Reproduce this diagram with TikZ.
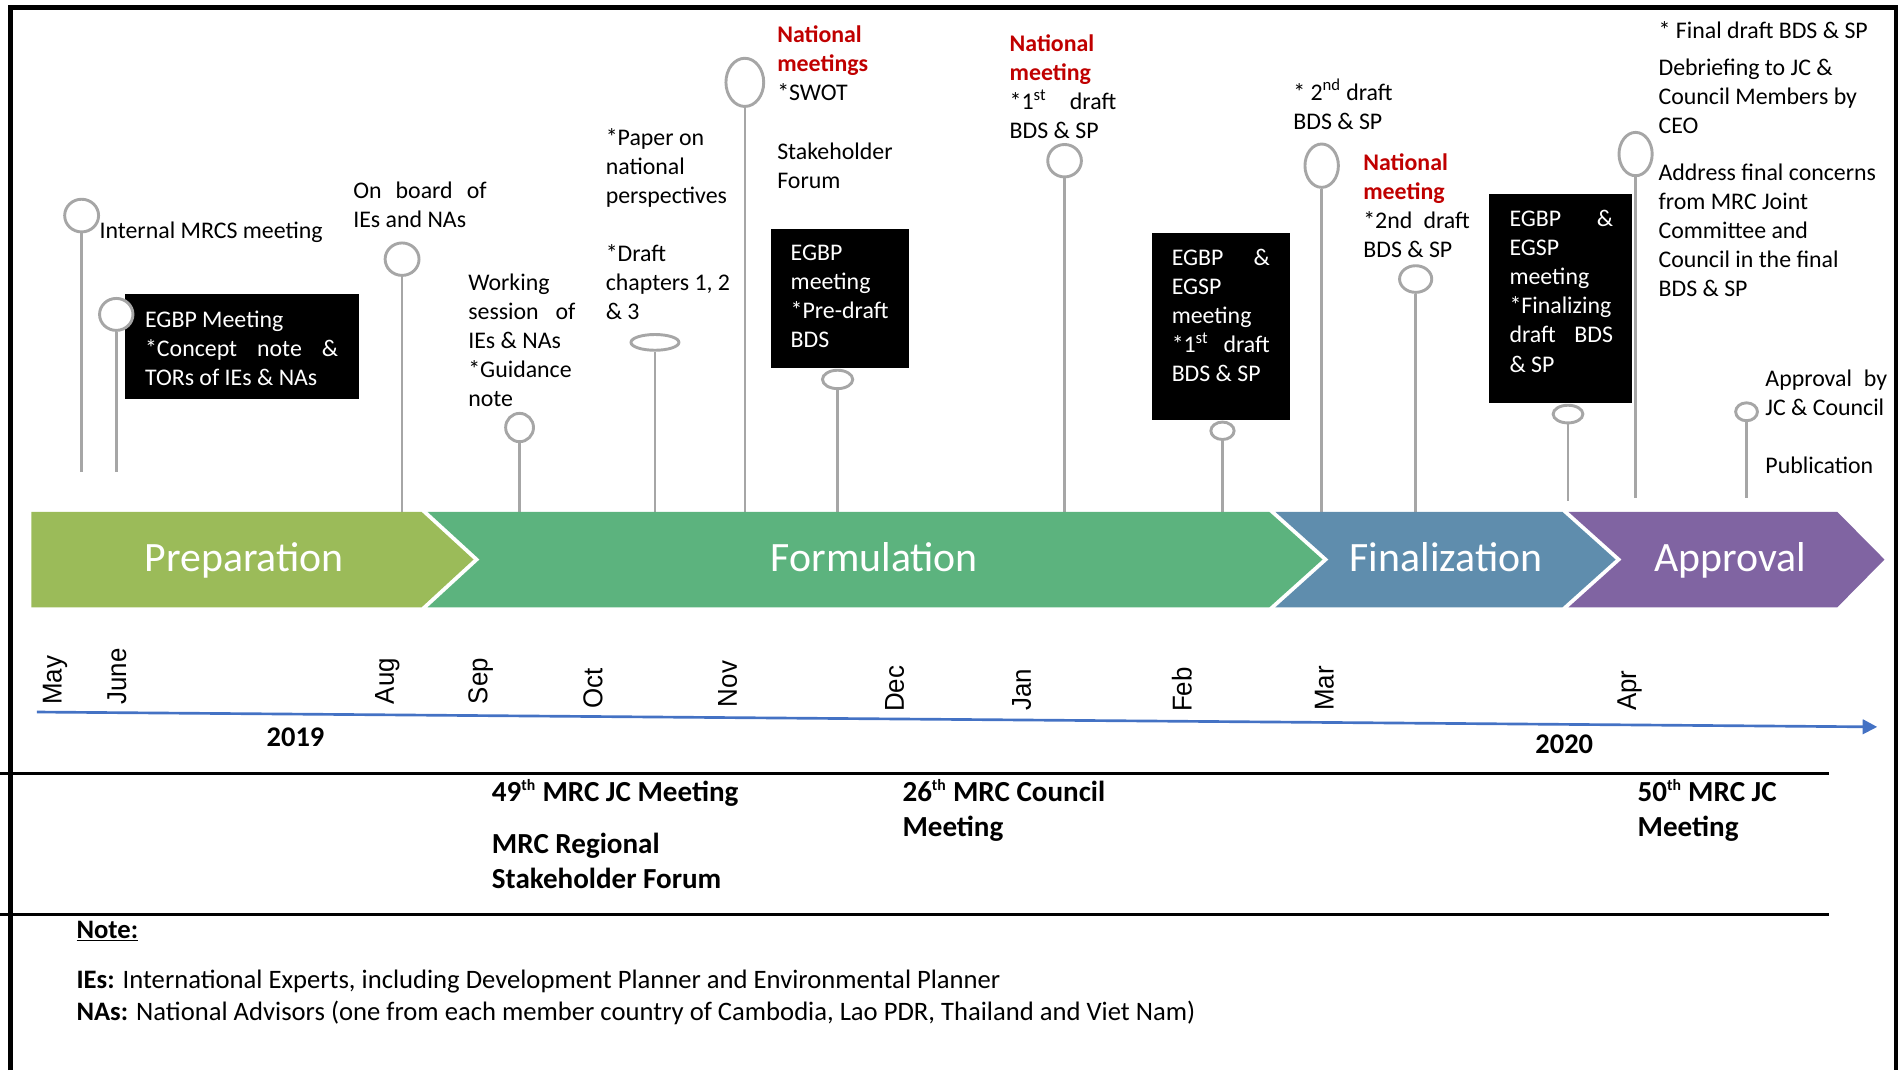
\documentclass[tikz,border=0pt]{standalone}
\usepackage{fontspec}
\setmainfont{Carlito}
\newfontfamily\monthfont{Liberation Sans}
\usetikzlibrary{shapes.geometric,arrows.meta}
\definecolor{stemgray}{HTML}{A6A6A6}
\definecolor{natred}{HTML}{C00000}
\definecolor{prepc}{HTML}{9BBB59}
\definecolor{formc}{HTML}{5CB37E}
\definecolor{finc}{HTML}{5F8DAD}
\definecolor{apprc}{HTML}{8064A2}
\definecolor{axisblue}{HTML}{4472C4}
\newcommand\lyn[1]{\hbox{#1}}
\newcommand\redb{\color{natred}\bfseries}
\newcommand\bodyf{\fontsize{19.7}{24}\selectfont}
\newcommand\smsup[1]{\textsuperscript{\fontsize{13}{13}\selectfont #1}}
\tikzset{
  ring/.style={ellipse, draw=stemgray, line width=2.4pt, fill=white, inner sep=0pt},
  stem/.style={draw=stemgray, line width=2.2pt},
  txt/.style={anchor=base west, inner sep=0pt, font=\bodyf},
  wtxt/.style={txt, text=white},
  blackbox/.style={fill=black, anchor=north west, inner sep=0pt},
  phase/.style={anchor=base, inner sep=0pt, text=white, font=\fontsize{34.5}{40}\selectfont},
  month/.style={anchor=mid west, inner sep=0pt, rotate=90, xscale=0.95, font=\monthfont\fontsize{22.5}{24}\selectfont},
  yearlbl/.style={anchor=base, inner sep=0pt, font=\bfseries\fontsize{23.5}{28}\selectfont},
  btxt/.style={anchor=base west, inner sep=0pt, font=\bfseries\fontsize{24}{29}\selectfont},
  ntxt/.style={anchor=base west, inner sep=0pt, font=\fontsize{22}{26}\selectfont},
  frame/.style={line width=4pt, line join=miter},
  rule/.style={line width=2pt}
}
\begin{document}
\begin{tikzpicture}[x=1pt,y=-1pt]
\useasboundingbox (0,0) rectangle (1568,883.5);

% frame
\draw[frame] (8.9,883.5) -- (8.9,6.2) -- (1565.5,6.2) -- (1565.5,883.5);
\draw[rule] (0,638.8) -- (1510.5,638.8);
\draw[rule] (0,755) -- (1510.5,755);

% black boxes
\node[blackbox, minimum width=193.6pt, minimum height=86.7pt] (box1) at (103,242.3) {};
\node[blackbox, minimum width=114.4pt, minimum height=115.1pt] (box2) at (636,188.6) {};
\node[blackbox, minimum width=114.4pt, minimum height=155pt] (box3) at (950.6,191.9) {};
\node[blackbox, minimum width=118.6pt, minimum height=172.4pt] (box4) at (1229.1,160.2) {};

% event markers and stems
\node[ring, minimum width=28pt, minimum height=27pt] (c1) at (67.4,178) {};
\coordinate (e1) at (67.4,389.6);
\node[ring, minimum width=27.6pt, minimum height=26.4pt] (c2) at (96,259.6) {};
\coordinate (e2) at (96,389.6);
\node[ring, minimum width=28pt, minimum height=26.8pt] (c3) at (332,214) {};
\coordinate (e3) at (332,422.6);
\node[ring, minimum width=23pt, minimum height=23.4pt] (c4) at (429,353) {};
\coordinate (e4) at (429,422.6);
\node[ring, minimum width=39.6pt, minimum height=13pt] (c5) at (540.8,282.7) {};
\coordinate (e5) at (540.8,422.6);
\node[ring, minimum width=31.2pt, minimum height=39.8pt] (c6) at (615,68) {};
\coordinate (e6) at (615,422.6);
\node[ring, minimum width=25pt, minimum height=15.2pt] (c7) at (691.6,313.3) {};
\coordinate (e7) at (691.6,422.6);
\node[ring, minimum width=27.8pt, minimum height=26.8pt] (c8) at (879,132.7) {};
\coordinate (e8) at (879,422.6);
\node[ring, minimum width=19.2pt, minimum height=14.4pt] (c9) at (1009.4,355.7) {};
\coordinate (e9) at (1009.4,422.6);
\node[ring, minimum width=27.6pt, minimum height=35.8pt] (c10) at (1091.3,136.8) {};
\coordinate (e10) at (1091.3,422.6);
\node[ring, minimum width=26.6pt, minimum height=22pt] (c11) at (1168.9,230.4) {};
\coordinate (e11) at (1168.9,425);
\node[ring, minimum width=24.6pt, minimum height=14.6pt] (c12) at (1294.7,341.9) {};
\coordinate (e12) at (1294.7,413.5);
\node[ring, minimum width=27.4pt, minimum height=35.8pt] (c13) at (1350.5,127.2) {};
\coordinate (e13) at (1350.5,411.6);
\node[ring, minimum width=18pt, minimum height=14.8pt] (c14) at (1442.1,340) {};
\coordinate (e14) at (1442.1,411.6);
\foreach \i in {1,...,14} {\draw[stem] (c\i) -- (e\i);}

% phase chevrons
\fill[prepc] (26,422.6) -- (348,422.6) -- (391,462) -- (348,501.5) -- (26,501.5) -- cycle;
\fill[formc] (353,422.6) -- (1048,422.6) -- (1092,462) -- (1048,501.5) -- (353,501.5) -- (396,462) -- cycle;
\fill[finc] (1053,422.6) -- (1290,422.6) -- (1334,462) -- (1290,501.5) -- (1053,501.5) -- (1097,462) -- cycle;
\fill[apprc] (1295,422.6) -- (1517,422.6) -- (1556,462) -- (1517,501.5) -- (1295,501.5) -- (1339,462) -- cycle;
\node[phase] (pPrep) at (201.6,472.2) {Preparation};
\node[phase] (pForm) at (722,472.2) {Formulation};
\node[phase] (pFin) at (1194,472.2) {Finalization};
\node[phase] (pAppr) at (1428.7,472.2) {Approval};

% event texts
\node[txt] (t1) at (82,197) {Internal MRCS meeting};
\node[wtxt] (t2) at (119.6,270) {\vtop{\lyn{EGBP Meeting}\lyn{\makebox[159.4pt][s]{*Concept note \&}}\lyn{TORs of IEs \& NAs}}};
\node[txt] (t3) at (291.5,164) {\vtop{\lyn{\makebox[110.2pt][s]{On board of}}\lyn{IEs and NAs}}};
\node[txt] (t4) at (386.5,239.5) {\vtop{\lyn{Working}\lyn{\makebox[88.5pt][s]{session of}}\lyn{IEs \& NAs}\lyn{*Guidance}\lyn{note}}};
\node[txt] (t5a) at (500,120) {\vtop{\lyn{*Paper on}\lyn{national}\lyn{perspectives}}};
\node[txt] (t5b) at (500,216) {\vtop{\lyn{*Draft}\lyn{chapters 1, 2}\lyn{\& 3}}};
\node[txt] (t6a) at (641.6,35.2) {\vtop{\lyn{\redb National}\lyn{\redb meetings}\lyn{*SWOT}}};
\node[txt] (t6b) at (641.6,132) {\vtop{\lyn{Stakeholder}\lyn{Forum}}};
\node[wtxt] (t7) at (652.7,214.7) {\vtop{\lyn{EGBP}\lyn{meeting}\lyn{*Pre-draft}\lyn{BDS}}};
\node[txt] (t8) at (833.5,42.7) {\vtop{\lyn{\redb National}\lyn{\redb meeting}\lyn{\makebox[88pt][s]{*1\textsuperscript{st} draft}}\lyn{BDS \& SP}}};
\node[wtxt] (t9) at (967.3,218.9) {\vtop{\lyn{\makebox[81pt][s]{EGBP \&}}\lyn{EGSP}\lyn{meeting}\lyn{\makebox[81pt][s]{*1\textsuperscript{st} draft}}\lyn{BDS \& SP}}};
\node[txt] (t10) at (1067.7,82.6) {\vtop{\lyn{* 2\textsuperscript{nd} draft}\lyn{BDS \& SP}}};
\node[txt] (t11) at (1125.5,140.4) {\vtop{\lyn{\redb National}\lyn{\redb meeting}\lyn{\makebox[88pt][s]{*2nd draft}}\lyn{BDS \& SP}}};
\node[wtxt] (t12) at (1246.2,187.2) {\vtop{\lyn{\makebox[85.5pt][s]{EGBP \&}}\lyn{EGSP}\lyn{meeting}\lyn{*Finalizing}\lyn{\makebox[85.5pt][s]{draft BDS}}\lyn{\& SP}}};
\node[txt] (t13a) at (1369.3,31.7) {* Final draft BDS \& SP};
\node[txt] (t13b) at (1369.3,62) {\vtop{\lyn{Debriefing to JC \&}\lyn{Council Members by}\lyn{CEO}}};
\node[txt] (t13c) at (1369.3,148.7) {\vtop{\lyn{Address final concerns}\lyn{from MRC Joint}\lyn{Committee and}\lyn{Council in the final}\lyn{BDS \& SP}}};
\node[txt] (t14a) at (1457.5,319.3) {\vtop{\lyn{\makebox[100.5pt][s]{Approval by}}\lyn{JC \& Council}}};
\node[txt] (t14b) at (1457.5,391) {Publication};

% time axis
\coordinate (ax0) at (30.4,587.9);
\coordinate (ax1) at (1550,600.2);
\draw[axisblue, line width=2.2pt, -{Triangle[length=12pt,width=12pt]}] (ax0) -- (ax1);

% months
\node[month] (mMay) at (48.5,582) {May};
\node[month] (mJun) at (101.7,582) {June};
\node[month] (mAug) at (322.8,581.5) {Aug};
\node[month] (mSep) at (400,581.5) {Sep};
\node[month] (mOct) at (495,585) {Oct};
\node[month] (mNov) at (606,584) {Nov};
\node[month] (mDec) at (744,588) {Dec};
\node[month] (mJan) at (848.7,587) {Jan};
\node[month] (mFeb) at (981.5,588) {Feb};
\node[month] (mMar) at (1098.7,587) {Mar};
\node[month] (mApr) at (1348.6,587) {Apr};

\node[yearlbl] (y2019) at (244,616.7) {2019};
\node[yearlbl] (y2020) at (1291.6,622.3) {2020};

% meetings
\node[btxt] (b1) at (406,662) {49\smsup{th} MRC JC Meeting};
\node[btxt] (b2) at (406,705) {\vtop{\lyn{MRC Regional}\lyn{Stakeholder Forum}}};
\node[btxt] (b3) at (745,662) {\vtop{\lyn{26\smsup{th} MRC Council}\lyn{Meeting}}};
\node[btxt] (b4) at (1352,662) {\vtop{\lyn{50\smsup{th} MRC JC}\lyn{Meeting}}};

% notes
\node[ntxt] (n0) at (63,775) {\bfseries\underline{Note:}};
\node[ntxt] (n1) at (63,816.4) {\textbf{IEs:} International Experts, including Development Planner and Environmental Planner};
\node[ntxt] (n2) at (63,842.5) {\textbf{NAs:} National Advisors (one from each member country of Cambodia, Lao PDR, Thailand and Viet Nam)};
\end{tikzpicture}
\end{document}
